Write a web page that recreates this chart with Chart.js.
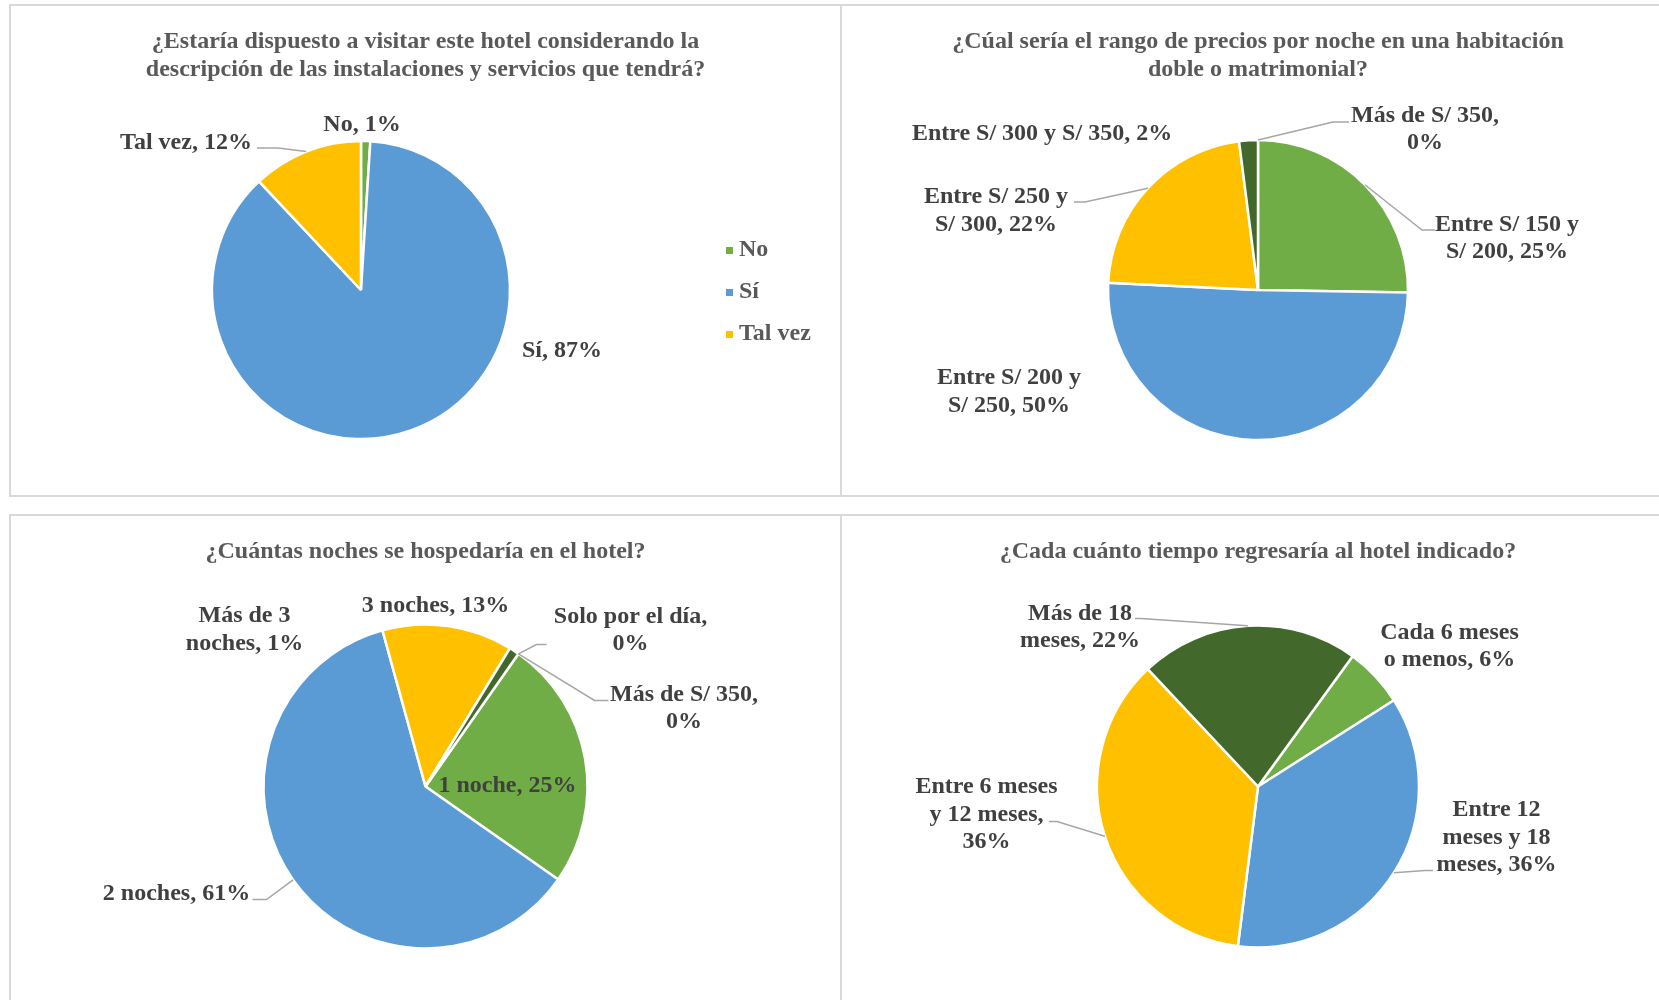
<!DOCTYPE html>
<html lang="es">
<head>
<meta charset="utf-8">
<title>Encuesta hotel</title>
<script src="https://cdn.jsdelivr.net/npm/chart.js@4.4.1/dist/chart.umd.min.js"></script>
<style>
  html, body { margin: 0; padding: 0; background: #fff; }
  body { width: 1659px; height: 1000px; overflow: hidden; position: relative; }
  .panel { position: absolute; box-sizing: border-box; border: 2px solid #d9d9d9; overflow: hidden; }
  .panel canvas { position: absolute; left: 0; top: 0; }
</style>
</head>
<body>
<div class="panel" style="left:9px;top:4px;width:833px;height:493px"><canvas id="visita" width="829" height="489"></canvas></div>
<div class="panel" style="left:840px;top:4px;width:833px;height:493px"><canvas id="precio" width="829" height="489"></canvas></div>
<div class="panel" style="left:9px;top:514px;width:833px;height:493px"><canvas id="noches" width="829" height="489"></canvas></div>
<div class="panel" style="left:840px;top:514px;width:833px;height:493px"><canvas id="regreso" width="829" height="489"></canvas></div>
<script>
const FONT = '"Liberation Serif", "Times New Roman", serif';
const LINE_H = 27.5;
const TEXT_NUDGE = 1.5; // baseline 'middle' sits a little high for this face

// ¿Estaría dispuesto a visitar este hotel...?
const visitaLabels = ['No', 'Sí', 'Tal vez'];
const visitaValues = [1, 87, 12];

// rango de precios por noche
const precioLabels = ['Entre S/ 150 y S/ 200', 'Entre S/ 200 y S/ 250', 'Entre S/ 250 y S/ 300', 'Entre S/ 300 y S/ 350', 'Más de S/ 350'];
const precioValues = [25, 50, 22, 2, 0];

// noches de hospedaje
const nochesLabels = ['1 noche', '2 noches', '3 noches', 'Más de 3 noches', 'Solo por el día', 'Más de S/ 350'];
const nochesValues = [25, 61, 13, 1, 0, 0];

// frecuencia de regreso
const regresoLabels = ['Cada 6 meses o menos', 'Entre 12 meses y 18 meses', 'Entre 6 meses y 12 meses', 'Más de 18 meses'];
const regresoValues = [6, 36, 36, 22];

const green = '#70AD47', blue = '#5B9BD5', yellow = '#FFC000', darkGreen = '#43682B';

// where each data label sits, relative to the pie centre (px)
// wrap = max line width, leader = hook point of the connector relative to the label centre
const visitaPlace = [
  {dx: 1, dy: -167},
  {dx: 201, dy: 59},
  {dx: -175, dy: -149, leader: [71, 7], elbow: 21}
];
const precioPlace = [
  {dx: 249, dy: -53, wrap: 155, leader: [-72, -7], elbow: 13},
  {dx: -249, dy: 100.5, wrap: 155},
  {dx: -262, dy: -80.5, wrap: 155, leader: [78, -7.5], elbow: 11},
  {dx: -216, dy: -158},
  {dx: 167, dy: -162, wrap: 155, leader: [-76, -6], elbow: 16}
];
const nochesPlace = [
  {dx: 82, dy: -2},
  {dx: -249, dy: 106, leader: [76, 7], elbow: 14},
  {dx: 10, dy: -182},
  {dx: -181, dy: -158, wrap: 125},
  {dx: 205, dy: -157.5, wrap: 160, leader: [-84, 15.5], elbow: 10},
  {dx: 258.5, dy: -79.5, wrap: 155, leader: [-75.5, -6.5], elbow: 14}
];
const regresoPlace = [
  {dx: 191.5, dy: -141.5, wrap: 140},
  {dx: 238.5, dy: 49.5, wrap: 124, leader: [-63.5, 34.5], elbow: 8},
  {dx: -271.5, dy: 26.5, wrap: 145, leader: [62.5, 8.5], elbow: 8},
  {dx: -178, dy: -160.5, wrap: 125, leader: [55, -7.5], elbow: 6}
];

function wrapText(ctx, text, maxW) {
  const words = text.split(' ');
  const lines = [];
  let cur = '';
  words.forEach(w => {
    const t = cur ? cur + ' ' + w : w;
    if (cur && ctx.measureText(t).width > maxW) {
      lines.push(cur);
      cur = w;
    } else {
      cur = t;
    }
  });
  lines.push(cur);
  return lines;
}

// "Label, 12%" data labels with optional leader lines
function pieLabels(place) {
  return {
    id: 'pieLabels',
    afterDatasetsDraw(chart) {
      const ctx = chart.ctx;
      const arcs = chart.getDatasetMeta(0).data;
      const values = chart.data.datasets[0].data;
      ctx.save();
      ctx.font = 'bold 24px ' + FONT;
      ctx.textAlign = 'center';
      ctx.textBaseline = 'middle';
      arcs.forEach((el, i) => {
        const p = place[i];
        const arc = el.getProps(['x', 'y', 'startAngle', 'endAngle', 'outerRadius'], true);
        const lines = wrapText(ctx, chart.data.labels[i] + ', ' + values[i] + '%', p.wrap || Infinity);
        const x = arc.x + p.dx, y = arc.y + p.dy;
        if (p.leader) {
          const mid = (arc.startAngle + arc.endAngle) / 2;
          const ax = arc.x + Math.cos(mid) * arc.outerRadius;
          const ay = arc.y + Math.sin(mid) * arc.outerRadius;
          const lx = x + p.leader[0], ly = y + p.leader[1];
          const ex = lx + Math.sign(ax - lx) * (p.elbow || 12);
          ctx.beginPath();
          ctx.moveTo(lx, ly);
          ctx.lineTo(ex, ly);
          ctx.lineTo(ax, ay);
          ctx.strokeStyle = '#a6a6a6';
          ctx.lineWidth = 1.5;
          ctx.stroke();
        }
        ctx.fillStyle = '#404040';
        const y0 = y - (lines.length - 1) * LINE_H / 2 + TEXT_NUDGE;
        lines.forEach((t, k) => ctx.fillText(t, x, y0 + k * LINE_H));
      });
      ctx.restore();
    }
  };
}

// legend column on the right, reserved as a layout box so the title stays centred
function sideLegend(cfg) {
  return {
    id: 'sideLegend',
    beforeInit(chart) {
      const box = {
        position: 'right', weight: 1000, fullSize: false, options: {},
        left: 0, top: 0, right: 0, bottom: 0, width: 0, height: 0,
        isHorizontal() { return false; },
        update(maxWidth, maxHeight) {
          this.width = cfg.width;
          this.height = maxHeight;
        },
        draw() {
          const ctx = chart.ctx;
          const labels = chart.data.labels;
          const colors = chart.data.datasets[0].backgroundColor;
          const mid = (this.top + this.bottom) / 2 + 2;
          ctx.save();
          ctx.font = 'bold 24px ' + FONT;
          ctx.textAlign = 'left';
          ctx.textBaseline = 'middle';
          labels.forEach((lab, i) => {
            const y = mid + (i - (labels.length - 1) / 2) * cfg.gap;
            ctx.fillStyle = colors[i];
            ctx.fillRect(this.left + cfg.boxX, y - 3, 7, 7);
            ctx.fillStyle = '#595959';
            ctx.fillText(lab, this.left + cfg.textX, y);
          });
          ctx.restore();
        }
      };
      Chart.layouts.addBox(chart, box);
    }
  };
}

function pieChart(id, labels, values, colors, opts) {
  const plugins = [pieLabels(opts.place)];
  if (opts.legend) plugins.push(sideLegend(opts.legend));
  return new Chart(document.getElementById(id), {
    type: 'pie',
    data: {
      labels: labels,
      datasets: [{
        data: values,
        backgroundColor: colors,
        borderColor: '#ffffff',
        borderWidth: 2.5
      }]
    },
    options: {
      responsive: false,
      animation: false,
      radius: opts.radius,
      rotation: opts.rotation || 0,
      layout: { padding: opts.padding || 0 },
      plugins: {
        legend: { display: false },
        tooltip: { enabled: false },
        title: {
          display: true,
          text: opts.title,
          color: '#595959',
          font: { family: FONT, size: 24, weight: 'bold', lineHeight: '28px' },
          padding: { top: 22, bottom: opts.titleGap }
        }
      }
    },
    plugins: plugins
  });
}

pieChart('visita', visitaLabels, visitaValues, [green, blue, yellow], {
  title: ['¿Estaría dispuesto a visitar este hotel considerando la', 'descripción de las instalaciones y servicios que tendrá?'],
  radius: 149, titleGap: 1, place: visitaPlace,
  legend: { width: 129, boxX: 15, textX: 28, gap: 42 }
});

pieChart('precio', precioLabels, precioValues, [green, blue, yellow, darkGreen, '#255E91'], {
  title: ['¿Cúal sería el rango de precios por noche en una habitación', 'doble o matrimonial?'],
  radius: 150, titleGap: 1, padding: { left: 3 }, place: precioPlace
});

pieChart('noches', nochesLabels, nochesValues, [green, blue, yellow, darkGreen, '#255E91', '#9E480E'], {
  title: '¿Cuántas noches se hospedaría en el hotel?',
  radius: 162, rotation: 35, titleGap: 2, place: nochesPlace
});

pieChart('regreso', regresoLabels, regresoValues, [green, blue, yellow, darkGreen], {
  title: '¿Cada cuánto tiempo regresaría al hotel indicado?',
  radius: 161, rotation: 36, titleGap: 2, padding: { left: 3 }, place: regresoPlace
});
</script>
</body>
</html>
